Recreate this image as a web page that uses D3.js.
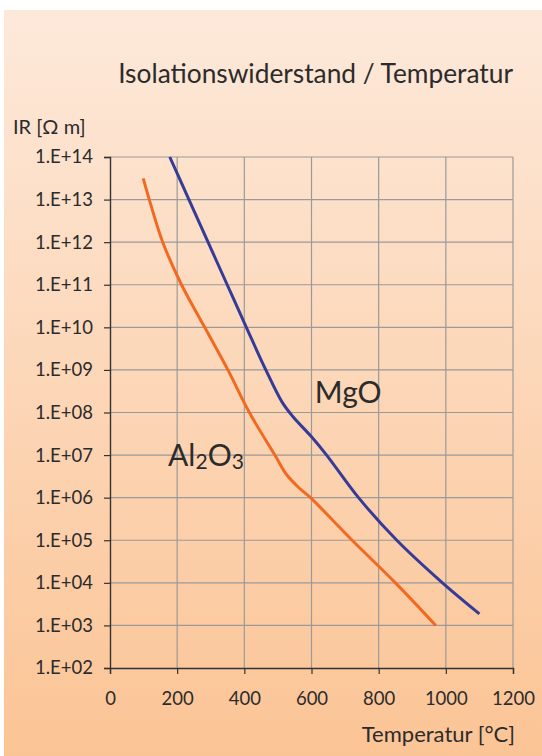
<!DOCTYPE html>
<html>
<head>
<meta charset="utf-8">
<script src="https://cdn.jsdelivr.net/npm/d3@7"></script>
<style>
  html, body { margin: 0; padding: 0; background: #fff; }
  svg text { font-family: Lato, "Open Sans", sans-serif; fill: #2b2b2b; }
</style>
</head>
<body>
<div id="chart"></div>
<script>
   var svgWidth = 542;
   var svgHeight = 756;

   // tick values
   var xTicks = [0, 200, 400, 600, 800, 1000, 1200];
   var yTicks = [1e2, 1e3, 1e4, 1e5, 1e6, 1e7, 1e8, 1e9, 1e10, 1e11, 1e12, 1e13, 1e14];

   // curves (temperature in °C, log10 of IR)
   var mgoTemp = [178, 235, 292, 349, 406, 464, 512, 545, 600, 645, 740, 854, 990, 1100];
   var mgoLog  = [14, 13, 12, 11, 10, 9, 8.25, 7.9, 7.43, 7, 6, 5, 4, 3.27];

   var alTemp = [99, 117, 157, 213, 282, 351, 415, 491, 525, 560, 597, 721, 850, 970];
   var alLog  = [13.5, 13, 12, 11, 10, 9, 8, 7, 6.55, 6.25, 6, 5, 4, 3];

   var margin = { top: 157, left: 110, right: 29, bottom: 88 };
   var width = svgWidth - margin.left - margin.right;
   var height = svgHeight - margin.top - margin.bottom;

   var svg = d3.select("#chart")
       .append("svg")
       .attr("width", svgWidth)
       .attr("height", svgHeight);

   // background gradient panel
   var grad = svg.append("defs").append("linearGradient")
       .attr("id", "bg")
       .attr("x1", 0).attr("y1", 0).attr("x2", 0).attr("y2", 1);
   grad.append("stop").attr("offset", "0%").attr("stop-color", "#fde9da");
   grad.append("stop").attr("offset", "100%").attr("stop-color", "#fbc495");

   svg.append("rect")
       .attr("x", 4)
       .attr("y", 10)
       .attr("width", svgWidth - 4)
       .attr("height", svgHeight - 10)
       .attr("fill", "url(#bg)");

   var chartGroup = svg.append("g")
       .attr("transform", `translate(${margin.left}, ${margin.top})`);

   var x = d3.scaleLinear().domain([0, 1200]).range([0, width]);
   var y = d3.scaleLog().domain([1e2, 1e14]).range([height, 0]);

   // grid
   chartGroup.append("g")
       .selectAll("line")
       .data(yTicks.slice(1))
       .enter()
       .append("line")
       .attr("x1", 0)
       .attr("x2", width)
       .attr("y1", d => y(d))
       .attr("y2", d => y(d))
       .attr("stroke", "#9a9a9a")
       .attr("stroke-width", 1.2);

   chartGroup.append("g")
       .selectAll("line")
       .data(xTicks.slice(1))
       .enter()
       .append("line")
       .attr("x1", d => x(d))
       .attr("x2", d => x(d))
       .attr("y1", 0)
       .attr("y2", height)
       .attr("stroke", "#9a9a9a")
       .attr("stroke-width", 1.2);

   // axes
   var expFmt = d => "1.E+" + String(Math.round(Math.log10(d))).padStart(2, "0");

   var leftAxis = d3.axisLeft(y)
       .tickValues(yTicks)
       .tickFormat(expFmt)
       .tickSize(6)
       .tickPadding(11);

   var bottomAxis = d3.axisBottom(x)
       .tickValues(xTicks)
       .tickFormat(d3.format("d"))
       .tickSize(6)
       .tickPadding(18);

   var yAxisG = chartGroup.append("g").call(leftAxis);
   var xAxisG = chartGroup.append("g")
       .attr("transform", `translate(0, ${height})`)
       .call(bottomAxis);

   [yAxisG, xAxisG].forEach(function(g) {
       g.select(".domain").attr("stroke", "#333").attr("stroke-width", 1.4);
       g.selectAll(".tick line").attr("stroke", "#333").attr("stroke-width", 1.2);
       g.selectAll(".tick text")
           .style("font-family", "Lato, sans-serif")
           .style("font-size", "18.5px")
           .attr("fill", "#2b2b2b");
   });

   // curves
   var line = d3.line()
       .x(d => x(d[0]))
       .y(d => y(Math.pow(10, d[1])))
       .curve(d3.curveCatmullRom.alpha(0.5));

   chartGroup.append("path")
       .datum(d3.zip(alTemp, alLog))
       .attr("d", line)
       .attr("fill", "none")
       .attr("stroke", "#f26a22")
       .attr("stroke-width", 3);

   chartGroup.append("path")
       .datum(d3.zip(mgoTemp, mgoLog))
       .attr("d", line)
       .attr("fill", "none")
       .attr("stroke", "#363b98")
       .attr("stroke-width", 3);

   // series labels
   chartGroup.append("text")
       .attr("x", x(610))
       .attr("y", y(Math.pow(10, 8.22)))
       .style("font-size", "30px")
       .text("MgO");

   var alLabel = chartGroup.append("text")
       .attr("x", x(173))
       .attr("y", y(Math.pow(10, 6.74)))
       .style("font-size", "30px");
   alLabel.append("tspan").text("Al");
   alLabel.append("tspan").attr("dy", 3).style("font-size", "21px").text("2");
   alLabel.append("tspan").attr("dy", -3).text("O");
   alLabel.append("tspan").attr("dy", 3).style("font-size", "21px").text("3");

   // titles
   svg.append("text")
       .attr("x", 513)
       .attr("y", 83)
       .attr("text-anchor", "end")
       .style("font-size", "26.3px")
       .text("Isolationswiderstand / Temperatur");

   svg.append("text")
       .attr("x", 13)
       .attr("y", 134)
       .style("font-size", "20px")
       .text("IR [Ω m]");

   svg.append("text")
       .attr("x", 515)
       .attr("y", 742)
       .attr("text-anchor", "end")
       .style("font-size", "22px")
       .text("Temperatur [°C]");
</script>
</body>
</html>
